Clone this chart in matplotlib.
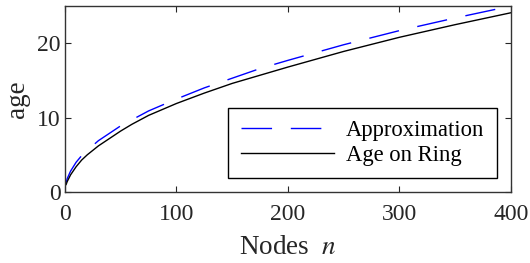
import matplotlib
matplotlib.use('Agg')
import matplotlib.pyplot as plt

plt.rcParams['font.family'] = 'Liberation Serif'
plt.rcParams['mathtext.fontset'] = 'stix'

# values
nodes = [1, 2, 5, 10, 15, 20, 30, 50, 60, 75, 100, 125, 150, 175, 200, 250, 300, 350, 400]
approx = [1.25, 1.8, 2.8, 4.0, 4.9, 5.6, 6.9, 8.9, 9.7, 10.9, 12.5, 14.0, 15.3, 16.6,
          17.7, 19.8, 21.7, 23.4, 25.0]
ring = [1.0, 1.4, 2.3, 3.4, 4.3, 5.0, 6.2, 8.2, 9.1, 10.3, 11.9, 13.3, 14.6, 15.7,
        16.8, 18.9, 20.8, 22.5, 24.1]

xticks = [0, 100, 200, 300, 400]
yticks = [0, 10, 20]

fig = plt.figure(figsize=(5.3, 2.63), dpi=100)
ax = fig.add_axes([0.1226, 0.27, 0.8415, 0.707])

ax.plot(nodes, approx, color='blue', linewidth=1.0, dashes=(22, 13.5), label='Approximation')
ax.plot(nodes, ring, color='black', linewidth=1.0, label='Age on Ring')

ax.set_xlim(0, 400)
ax.set_ylim(0, 25)
ax.set_xticks(xticks)
ax.set_yticks(yticks)
ax.tick_params(direction='in', length=4, width=0.8, top=True, right=True,
               labelsize=17, colors='#262626')
ax.tick_params(axis='x', pad=9)
ax.tick_params(axis='y', pad=3)
for s in ax.spines.values():
    s.set_color('#333333')
    s.set_linewidth(1.0)

ax.set_xlabel('Nodes  $n$', fontsize=19.5, color='#262626', labelpad=7)
ax.set_ylabel('age', fontsize=19.5, color='#262626', labelpad=5)

leg = ax.legend(loc='lower right', fontsize=16.3, fancybox=False, framealpha=1,
                edgecolor='black', handlelength=4.1, handletextpad=0.55,
                borderaxespad=0.62, borderpad=0.55, labelspacing=0.15)
leg.get_frame().set_linewidth(1.0)

fig.savefig('out.png', dpi=100)
